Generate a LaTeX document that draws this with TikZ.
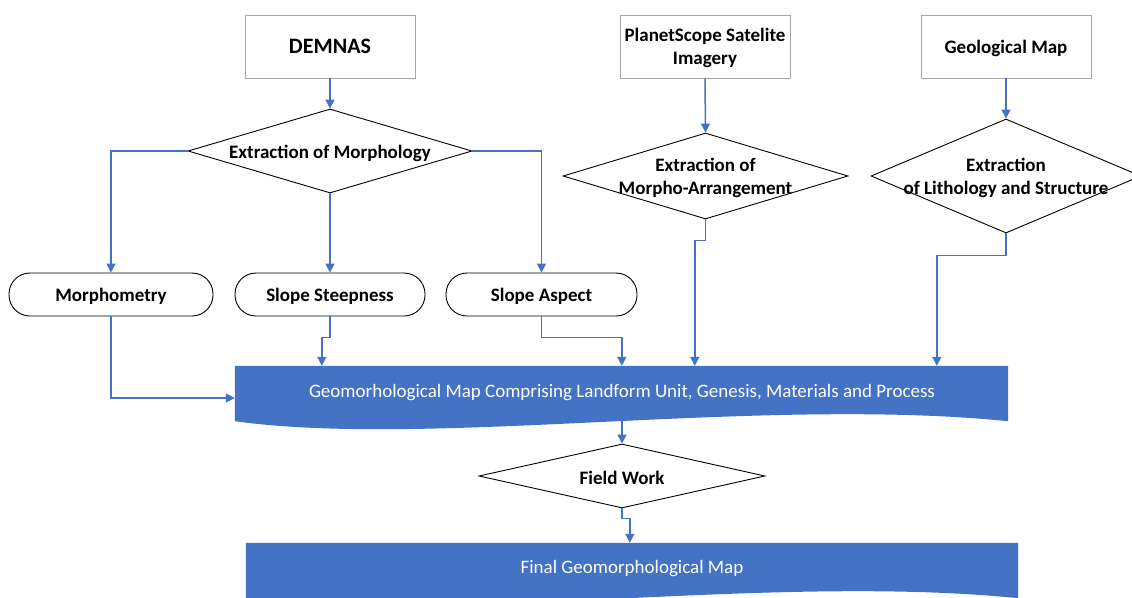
\documentclass[tikz,border=0pt]{standalone}
\usepackage{fontspec}
\setmainfont{Carlito}
\usetikzlibrary{shapes.geometric,arrows.meta,calc}
\definecolor{ablue}{HTML}{4472C4}
\definecolor{bgray}{HTML}{A6A6A6}
\begin{document}
\begin{tikzpicture}[x=1pt,y=-1pt,
 src/.style={draw=bgray,line width=0.9pt,minimum width=170pt,minimum height=63pt,inner sep=0pt,text depth=0pt,align=center,font=\fontsize{19}{23}\selectfont\bfseries},
 dia/.style={draw=black,line width=0.9pt,shape=diamond,inner sep=0pt},
 lbl/.style={align=center,inner sep=0pt,yshift=-2pt,font=\fontsize{19}{22.5}\selectfont\bfseries},
 pill/.style={draw=black,line width=0.9pt,rounded corners=21pt,minimum height=43pt,inner sep=0pt,text depth=0pt,font=\fontsize{19}{22}\selectfont\bfseries},
 arr/.style={draw=ablue,line width=1.5pt,-{Triangle[length=9pt,width=9pt]}},
 docbox/.style={minimum width=773pt,minimum height=55pt,inner sep=0pt},
 doctext/.style={text=white,inner sep=0pt,yshift=-1.5pt,font=\fontsize{19}{22}\selectfont}]
\useasboundingbox (0,0) rectangle (1132,597);
% sources
\node[src,font=\fontsize{22}{26}\selectfont\bfseries] (dem) at (330,46.5) {DEMNAS};
\node[src] (ps) at (705,46.5) {PlanetScope Satelite\\Imagery};
\node[src] (gm) at (1006,46.5) {Geological Map};
% diamonds
\node[dia,minimum width=284pt,minimum height=84pt] (exm) at (330,151) {};
\node[lbl] at (exm) {Extraction of Morphology};
\node[dia,minimum width=285pt,minimum height=86pt] (exa) at (705.5,176) {};
\node[lbl] at (exa) {Extraction of\\Morpho-Arrangement};
\node[dia,minimum width=270pt,minimum height=114pt] (exl) at (1006,176) {};
\node[lbl] at (exl) {Extraction\\of Lithology and Structure};
% pills
\node[pill,minimum width=204pt] (morph) at (111,294.5) {Morphometry};
\node[pill,minimum width=190pt] (steep) at (330,294.5) {Slope Steepness};
\node[pill,minimum width=191pt] (aspect) at (541.5,294.5) {Slope Aspect};
% geomorphological map
\node[docbox] (geo) at (621.5,393.5) {};
\fill[ablue] (geo.north west) -- (geo.north east) -- (geo.south east)
  .. controls ($(geo.south east)+(-248,-25)$) and ($(geo.south west)+(195,27)$) .. (geo.south west) -- cycle;
\node[doctext] at (622,391.5) {Geomorhological Map Comprising Landform Unit, Genesis, Materials and Process};
% field work
\node[dia,minimum width=286pt,minimum height=64pt] (fw) at (622,476) {};
\node[lbl] at (fw) {Field Work};
% final
\node[docbox,minimum width=772pt] (fin) at (632,570.5) {};
\fill[ablue] (fin.north west) -- (fin.north east) -- (fin.south east)
  .. controls ($(fin.south east)+(-248,-25)$) and ($(fin.south west)+(195,27)$) .. (fin.south west) -- cycle;
\node[doctext] at (632,567) {Final Geomorphological Map};
% connectors
\draw[arr] (dem.south) -- (exm.north);
\draw[arr] (ps.south) -- (exa.north);
\draw[arr] (gm.south) -- (exl.north);
\draw[arr] (exm.west) -| (morph.north);
\draw[arr] (exm.south) -- (steep.north);
\draw[arr] (exm.east) -| (aspect.north);
\draw[arr] (morph.south) |- ($(geo.west)+(0,4.5)$);
\draw[arr] (steep.south) -- ++(0,21) -| ($(geo.north west)+(87,0)$);
\draw[arr] (aspect.south) -- ++(0,21) -| ($(geo.north west)+(387,0)$);
\draw[arr] (exa.south) -- ++(0,21) -| ($(geo.north west)+(460,0)$);
\draw[arr] (exl.south) -- ++(0,22) -| ($(geo.north west)+(702,0)$);
\draw[arr] (fw.north |- geo.south) -- (fw.north);
\draw[arr] (fw.south) -- ++(0,10) -| ($(fin.north west)+(384,0)$);
\end{tikzpicture}
\end{document}
